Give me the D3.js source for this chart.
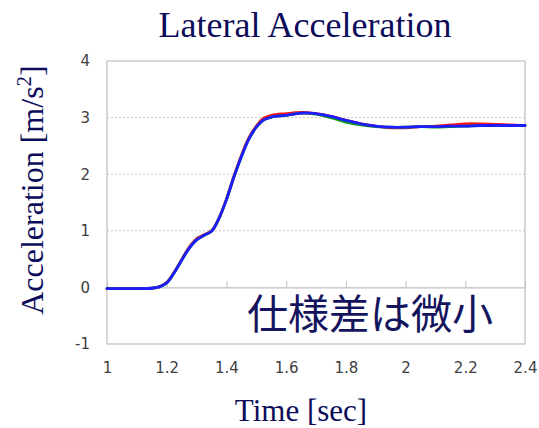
<!DOCTYPE html>
<html><head><meta charset="utf-8">
<script src="https://cdn.jsdelivr.net/npm/d3@7"></script>
<style>
html,body{margin:0;padding:0;background:#fff;}
svg{display:block;}
.tl text{font-family:'DejaVu Sans',sans-serif;font-size:15px;fill:#404040;}
</style></head>
<body>
<svg id="chart" width="539" height="428"></svg>
<script>
const times = [1.0,1.05,1.1,1.15,1.175,1.2,1.225,1.25,1.275,1.3,1.325,1.35,1.375,1.4,1.425,1.45,1.475,1.5,1.525,1.55,1.6,1.65,1.7,1.75,1.8,1.85,1.9,1.95,2.0,2.05,2.1,2.15,2.2,2.25,2.3,2.35,2.4];
const redVals = [-0.02,-0.02,-0.02,-0.015,0.01,0.09,0.27,0.49,0.71,0.86,0.93,1.0,1.22,1.56,1.96,2.33,2.64,2.85,2.99,3.04,3.07,3.09,3.07,3.02,2.95,2.89,2.85,2.82,2.82,2.84,2.85,2.87,2.89,2.89,2.88,2.87,2.86];
const greenVals = [-0.02,-0.02,-0.02,-0.015,0.01,0.08,0.26,0.48,0.69,0.84,0.92,0.99,1.22,1.55,1.95,2.31,2.62,2.83,2.96,3.01,3.04,3.08,3.06,3.0,2.92,2.87,2.84,2.83,2.83,2.84,2.83,2.84,2.85,2.86,2.86,2.86,2.86];
const blueVals = [-0.02,-0.02,-0.02,-0.015,0.01,0.08,0.26,0.48,0.69,0.84,0.92,0.99,1.22,1.55,1.95,2.31,2.62,2.83,2.96,3.01,3.04,3.08,3.07,3.02,2.95,2.89,2.85,2.83,2.83,2.84,2.84,2.85,2.85,2.86,2.86,2.86,2.86];
const xTicks = [1,1.2,1.4,1.6,1.8,2,2.2,2.4];
const yTicks = [-1,0,1,2,3,4];
const gridVals = [1,2,3];
const titleText = "Lateral Acceleration";
const xTitle = "Time [sec]";
const yTitle = "Acceleration [m/s";
const noteText = "仕様差は微小";

const svg = d3.select("#chart");
const x = d3.scaleLinear().domain([1,2.4]).range([107,525]);
const y = d3.scaleLinear().domain([-1,4]).range([344,61]);

// gridlines
svg.append("g").selectAll("line").data(gridVals).join("line")
  .attr("x1", x(1)).attr("x2", x(2.4))
  .attr("y1", d=>y(d)).attr("y2", d=>y(d))
  .attr("stroke", "#c8c8c8").attr("stroke-width", 1).attr("stroke-dasharray", "2,2");

// frame
svg.append("rect").attr("x", x(1)).attr("y", y(4)).attr("width", x(2.4)-x(1)).attr("height", y(-1)-y(4))
  .attr("fill","none").attr("stroke","#bfbfbf").attr("stroke-width",1.2);

// y axis labels
const yAxis = svg.append("g").attr("class","tl").attr("transform", `translate(${x(1)},0)`)
  .call(d3.axisLeft(y).tickValues(yTicks).tickSize(0).tickPadding(17).tickFormat(d=>String(d)));
yAxis.attr("font-size", null).attr("font-family", null);
yAxis.select(".domain").remove();

// x axis labels at bottom
const xAxis = svg.append("g").attr("class","tl").attr("transform", `translate(0,${y(-1)})`)
  .call(d3.axisBottom(x).tickValues(xTicks).tickSize(0).tickPadding(18).tickFormat(d=>String(d)));
xAxis.attr("font-size", null).attr("font-family", null);
xAxis.select(".domain").remove();

// zero axis line with upward ticks
const zAxis = svg.append("g").attr("transform", `translate(0,${y(0)})`)
  .call(d3.axisBottom(x).tickValues(xTicks).tickSizeInner(-6).tickSizeOuter(0).tickFormat(""));
zAxis.select(".domain").attr("stroke","#bfbfbf").attr("stroke-width",1.2);
zAxis.selectAll(".tick line").attr("stroke","#bfbfbf");

// lines
const line = d3.line().x(d=>x(d[0])).y(d=>y(d[1])).curve(d3.curveCatmullRom.alpha(0.5));
const series = [
  {vals: redVals, color: "#ff1010"},
  {vals: greenVals, color: "#109a10"},
  {vals: blueVals, color: "#1c1cff"}
];
series.forEach(s => {
  svg.append("path").datum(times.map((t,i)=>[t, s.vals[i]]))
    .attr("d", line).attr("fill","none").attr("stroke", s.color).attr("stroke-width", 2.8)
    .attr("stroke-linejoin","round").attr("stroke-linecap","round");
});

// title
svg.append("text").attr("x", 305).attr("y", 37).attr("text-anchor","middle")
  .attr("fill","#0c0c5a").style("font-family","'Liberation Serif','Times New Roman',serif").style("font-size","36px")
  .text(titleText);

// x title
svg.append("text").attr("x", 301).attr("y", 421).attr("text-anchor","middle")
  .attr("fill","#0c0c5a").style("font-family","'Liberation Serif','Times New Roman',serif").style("font-size","31px")
  .text(xTitle);

// y title
const yt = svg.append("text").attr("transform","translate(43,190) rotate(-90)").attr("text-anchor","middle")
  .attr("fill","#0c0c5a").style("font-family","'Liberation Serif','Times New Roman',serif").style("font-size","32px");
yt.append("tspan").text(yTitle);
yt.append("tspan").attr("dy", -12).style("font-size","21px").text("2");
yt.append("tspan").attr("dy", 12).text("]");

// note
svg.append("text").attr("x", 247).attr("y", 329)
  .attr("fill","#14145e").style("font-family","'Noto Sans CJK JP','Noto Sans CJK SC',sans-serif").style("font-size","41px")
  .text(noteText);
</script>
</body></html>
